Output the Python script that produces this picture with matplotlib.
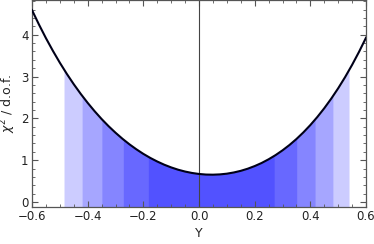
import numpy as np
import matplotlib
matplotlib.use('Agg')
import matplotlib.pyplot as plt
from matplotlib.ticker import MultipleLocator

# chi^2/dof curve
yVals = np.arange(-0.6, 0.6001, 0.025)
chi2 = [4.589, 4.244, 3.919, 3.616, 3.331, 3.065, 2.817, 2.586, 2.371,
        2.171, 1.985, 1.814, 1.657, 1.512, 1.380, 1.260, 1.151, 1.054,
        0.968, 0.892, 0.827, 0.772, 0.728, 0.694, 0.670, 0.656, 0.653,
        0.660, 0.677, 0.706, 0.745, 0.796, 0.859, 0.933, 1.021, 1.121,
        1.235, 1.363, 1.506, 1.665, 1.840, 2.032, 2.242, 2.471, 2.719,
        2.988, 3.279, 3.592, 3.929]

# confidence bands (outer -> inner)
leftEdges = [-0.485, -0.420, -0.349, -0.272, -0.182]
rightEdges = [0.539, 0.481, 0.417, 0.351, 0.270]
bandColors = ['#CCCCFF', '#A6A6FF', '#8585FF', '#6868FF', '#5252FF']

ymin, ymax = -0.112, 4.82

fig = plt.figure(figsize=(3.74, 2.44), dpi=100)
ax = fig.add_axes([0.0856, 0.153, 0.893, 0.845])

for i in range(len(leftEdges)):
    lo = leftEdges[i]
    hi = rightEdges[i]
    inner = yVals[(yVals > lo) & (yVals < hi)]
    xs = np.concatenate([[lo], inner, [hi]])
    ys = np.interp(xs, yVals, chi2)
    ax.fill_between(xs, ys, ymin, color=bandColors[i], lw=0, zorder=1)

ax.axvline(0, color='#444444', lw=0.8, zorder=2)
ax.plot(yVals, chi2, color='#000018', lw=1.5, zorder=3)

ax.set_xlim(-0.6, 0.6)
ax.set_ylim(ymin, ymax)
ax.xaxis.set_minor_locator(MultipleLocator(0.05))
ax.yaxis.set_major_locator(MultipleLocator(1))
ax.yaxis.set_minor_locator(MultipleLocator(0.2))
ax.set_xticks([-0.6, -0.4, -0.2, 0.0, 0.2, 0.4, 0.6])
ax.set_xticklabels(['\u22120.6', '\u22120.4', '\u22120.2', '0.0', '0.2', '0.4', '0.6'])

ax.tick_params(which='both', direction='in', top=True, right=True,
               color='#555555', labelsize=8.5, labelcolor='#222222')
ax.tick_params(which='major', length=4, width=0.8, pad=2.5)
ax.tick_params(which='minor', length=2, width=0.6)
for s in ax.spines.values():
    s.set_color('#555555')
    s.set_linewidth(0.9)

ax.set_xlabel('Y', fontsize=9, color='#222222', labelpad=3)
ax.set_ylabel(r'$\chi^2$ / d.o.f.', fontsize=9, color='#222222', labelpad=2)

fig.savefig('out.png', dpi=100)
